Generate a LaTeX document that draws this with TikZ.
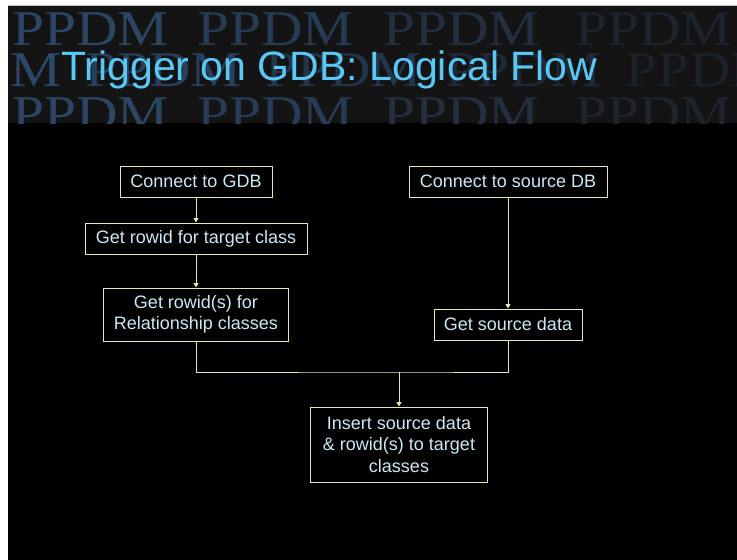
\documentclass[tikz,border=0pt]{standalone}
\usepackage{fontspec}
\setmainfont{Liberation Sans}
\newfontfamily\wmfont{Liberation Serif}
\usepackage{xcolor}
\usetikzlibrary{arrows.meta,positioning}
\definecolor{band}{RGB}{20,20,20}
\definecolor{wmblue}{RGB}{52,88,130}
\definecolor{titleblue}{RGB}{90,200,245}
\definecolor{boxtext}{RGB}{205,232,245}
\definecolor{flowline}{RGB}{232,230,180}
\tikzset{
  flowbox/.style={draw=flowline, line width=1pt, text=boxtext, fill=black, align=center,
    font=\fontsize{18}{21.5}\selectfont, minimum height=31pt, inner sep=0pt},
  wmark/.style={anchor=base west, font=\wmfont\fontsize{50}{50}\selectfont, xscale=1.15, inner sep=0pt},
}

\begin{document}
\begin{tikzpicture}[x=1pt, y=-1pt, >={Triangle[length=4.5pt,width=5pt]}]
  \useasboundingbox (0,0) rectangle (737,560);
  \fill[white] (0,0) rectangle (737,560);
  \fill[black] (8,5) rectangle (737,560);
  \fill[band] (8,5) rectangle (737,123);
  \draw[gray!45, line width=1pt] (8,5) -- (737,5);
  \begin{scope}
    \clip (8,5.5) rectangle (737,123);
    \foreach \wx/\wc in {12/72, 197/58, 383/40, 575/24}{
      \node[wmark, text=wmblue!\wc!band] at (\wx,45) {PPDM};
      \node[wmark, text=wmblue!\wc!band] at (\wx,130) {PPDM};
    }
    \foreach \wx/\wc in {-95/76, 85/64, 265/48, 445/32, 625/20}
      \node[wmark, text=wmblue!\wc!band] at (\wx,86) {PPDM};
  \end{scope}
  \node[anchor=base west, text=titleblue, font=\fontsize{41}{41}\selectfont, inner sep=0pt]
    (title) at (61,80) {Trigger on GDB: Logical Flow};

  \node[flowbox, minimum width=152pt] (gdb) at (196,181.5) {Connect to GDB};
  \node[flowbox, minimum width=222pt, below=25pt of gdb] (rowid) {Get rowid for target class};
  \node[flowbox, minimum width=185pt, minimum height=53pt, below=33pt of rowid] (relrow)
    {Get rowid(s) for\\Relationship classes};
  \node[flowbox, minimum width=198pt] (srcdb) at (508,181.5) {Connect to source DB};
  \node[flowbox, minimum width=148pt, below=111pt of srcdb] (srcdata) {Get source data};
  \node[flowbox, minimum width=177pt, minimum height=75pt] (insert) at (399,444.5)
    {Insert source data\\\& rowid(s) to target\\classes};
  \coordinate (join) at (399,372);

  \draw[->, flowline, line width=1pt] (gdb) -- (rowid);
  \draw[->, flowline, line width=1pt] (rowid) -- (relrow);
  \draw[->, flowline, line width=1pt] (srcdb) -- (srcdata);
  \draw[flowline, line width=1pt] (relrow.south) |- (join) -| (srcdata.south);
  \draw[->, flowline, line width=1pt] (join) -- (insert);
\end{tikzpicture}
\end{document}
